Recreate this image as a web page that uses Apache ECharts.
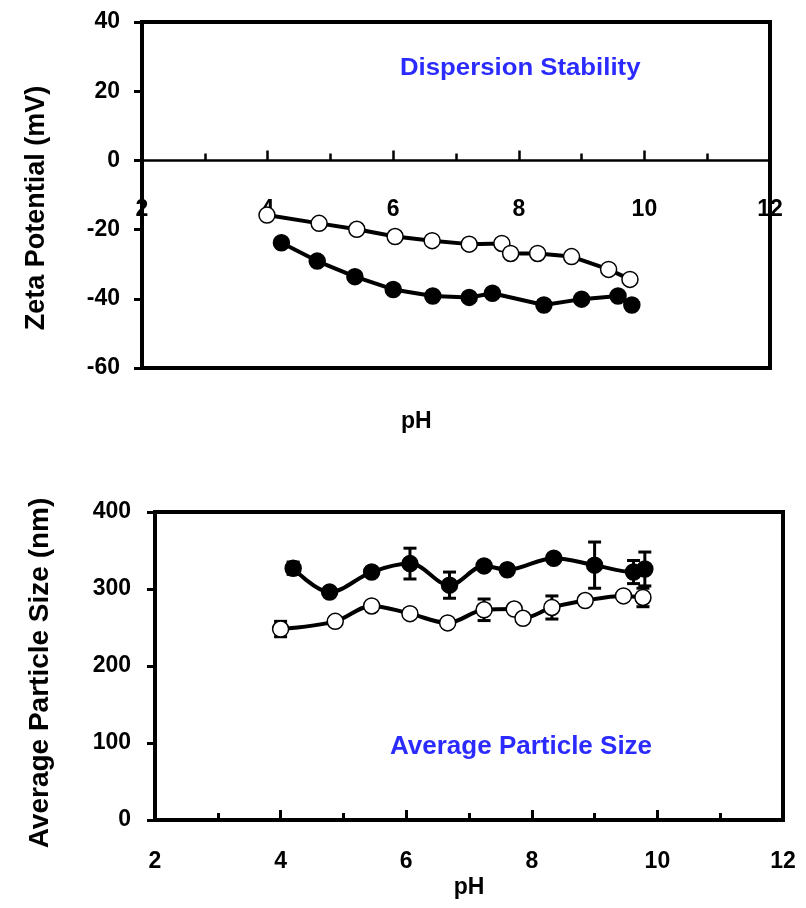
<!DOCTYPE html>
<html><head><meta charset="utf-8">
<script src="https://cdn.jsdelivr.net/npm/echarts@6/dist/echarts.min.js"></script>
<style>html,body{margin:0;padding:0;background:#fff}#c{width:806px;height:908px}</style>
</head><body><div id="c"></div>
<script>
// ---- Data ----
const zetaOpenPH   = [3.99, 4.82, 5.42, 6.03, 6.62, 7.21, 7.73, 7.87, 8.30, 8.84, 9.43, 9.77];
const zetaOpenVal  = [-15.8, -18.2, -19.9, -22.0, -23.2, -24.2, -24.0, -26.9, -26.9, -27.8, -31.5, -34.4];
const zetaFillPH   = [4.22, 4.79, 5.39, 6.00, 6.63, 7.21, 7.58, 8.40, 9.00, 9.58, 9.80];
const zetaFillVal  = [-23.8, -29.1, -33.6, -37.3, -39.2, -39.6, -38.4, -41.8, -40.1, -39.2, -41.8];

const sizeFillPH   = [4.20, 4.78, 5.45, 6.06, 6.69, 7.24, 7.61, 8.35, 9.00, 9.62, 9.80];
const sizeFillVal  = [327, 296, 322, 333, 305, 330, 325, 340, 331, 322, 326];
const sizeFillErr  = [8, 5, 5, 20, 17, 5, 5, 5, 30, 15, 22];
const sizeOpenPH   = [4.00, 4.87, 5.45, 6.06, 6.66, 7.24, 7.72, 7.86, 8.32, 8.85, 9.46, 9.77];
const sizeOpenVal  = [248, 258, 278, 268, 256, 273, 274, 262, 276, 285, 291, 289];
const sizeOpenErr  = [10, 5, 5, 5, 5, 14, 5, 5, 15, 5, 5, 12];

const pHTicks = [2, 4, 6, 8, 10, 12];
const zetaTicks = [-60, -40, -20, 0, 20, 40];
const sizeTicks = [0, 100, 200, 300, 400];

const FONT = 'Liberation Sans, Arial, sans-serif';
const BLUE = '#2b2bff';

function pairs(xs, ys) { return xs.map((x, i) => [x, ys[i]]); }
function errData(xs, ys, es) { return xs.map((x, i) => [x, ys[i] - es[i], ys[i] + es[i]]); }

function errSeries(xIdx, yIdx, data) {
  return {
    type: 'custom', xAxisIndex: xIdx, yAxisIndex: yIdx, z: 1, silent: true,
    data: data,
    renderItem: function (params, api) {
      const x = api.value(0), lo = api.value(1), hi = api.value(2);
      const p1 = api.coord([x, lo]), p2 = api.coord([x, hi]);
      const w = 6.5;
      const st = { stroke: '#000', lineWidth: 3 };
      return { type: 'group', children: [
        { type: 'line', shape: { x1: p1[0], y1: p1[1], x2: p2[0], y2: p2[1] }, style: st },
        { type: 'line', shape: { x1: p1[0] - w, y1: p1[1], x2: p1[0] + w, y2: p1[1] }, style: st },
        { type: 'line', shape: { x1: p2[0] - w, y1: p2[1], x2: p2[0] + w, y2: p2[1] }, style: st }
      ]};
    }
  };
}

function lineSeries(xIdx, yIdx, data, filled, smooth) {
  return {
    type: 'line', xAxisIndex: xIdx, yAxisIndex: yIdx, z: 3, smooth: smooth,
    data: data, symbol: 'circle', symbolSize: 16,
    lineStyle: { color: '#000', width: 4 },
    itemStyle: { color: filled ? '#000' : '#fff', borderColor: '#000', borderWidth: 1.5 },
    animation: false
  };
}

const labelStyle = { color: '#000', fontFamily: FONT, fontWeight: 'bold', fontSize: 23 };

const chart = echarts.init(document.getElementById('c'), null, { renderer: 'canvas' });
chart.setOption({
  backgroundColor: '#fff',
  animation: false,
  grid: [
    { left: 142, top: 22, width: 628, height: 346, show: true, borderColor: '#000', borderWidth: 4, backgroundColor: 'transparent' },
    { left: 155, top: 512, width: 628, height: 308, show: true, borderColor: '#000', borderWidth: 4, backgroundColor: 'transparent' }
  ],
  xAxis: [
    { type: 'value', gridIndex: 0, min: pHTicks[0], max: pHTicks[pHTicks.length - 1], interval: 2,
      axisLine: { onZero: true, lineStyle: { color: '#000', width: 2.5 } },
      axisTick: { show: true, inside: true, length: 10, lineStyle: { width: 2.5, color: '#000' } },
      minorTick: { show: true, splitNumber: 2, length: 7, lineStyle: { width: 2.5, color: '#000' } },
      splitLine: { show: false },
      axisLabel: Object.assign({ margin: -170, showMinLabel: true, showMaxLabel: true }, labelStyle)
    },
    { type: 'value', gridIndex: 1, min: pHTicks[0], max: pHTicks[pHTicks.length - 1], interval: 2,
      name: 'pH', nameLocation: 'middle', nameGap: 56,
      nameTextStyle: { color: '#000', fontFamily: FONT, fontWeight: 'bold', fontSize: 23 },
      axisLine: { onZero: false, lineStyle: { color: '#000', width: 4 } },
      axisTick: { show: true, inside: true, length: 10, lineStyle: { width: 3, color: '#000' } },
      minorTick: { show: true, splitNumber: 2, length: 7, lineStyle: { width: 3, color: '#000' } },
      splitLine: { show: false },
      axisLabel: Object.assign({ margin: 30, showMinLabel: true, showMaxLabel: true }, labelStyle)
    }
  ],
  yAxis: [
    { type: 'value', gridIndex: 0, min: zetaTicks[0], max: zetaTicks[zetaTicks.length - 1], interval: 20,
      axisLine: { show: true, lineStyle: { color: '#000', width: 4 } },
      axisTick: { show: true, inside: false, length: 8, lineStyle: { width: 3, color: '#000' } },
      splitLine: { show: false },
      axisLabel: Object.assign({ margin: 22 }, labelStyle)
    },
    { type: 'value', gridIndex: 1, min: sizeTicks[0], max: sizeTicks[sizeTicks.length - 1], interval: 100,
      axisLine: { show: true, lineStyle: { color: '#000', width: 4 } },
      axisTick: { show: true, inside: false, length: 8, lineStyle: { width: 3, color: '#000' } },
      splitLine: { show: false },
      axisLabel: Object.assign({ margin: 24 }, labelStyle)
    }
  ],
  graphic: [
    { type: 'text', x: 400, y: 57, scaleX: 1.12, z: 10,
      style: { text: 'Dispersion Stability', fill: BLUE, font: 'bold 23px ' + FONT } },
    { type: 'text', x: 390, y: 734, z: 10,
      style: { text: 'Average Particle Size', fill: BLUE, font: 'bold 26px ' + FONT } },
    { type: 'text', x: 401, y: 410, z: 10,
      style: { text: 'pH', fill: '#000', font: 'bold 23px ' + FONT } },
    { type: 'text', x: 37, y: 208, rotation: Math.PI / 2, z: 10,
      style: { text: 'Zeta Potential (mV)', fill: '#000', font: 'bold 27px ' + FONT, align: 'center', verticalAlign: 'middle' } },
    { type: 'text', x: 40, y: 673, rotation: Math.PI / 2, z: 10,
      style: { text: 'Average Particle Size (nm)', fill: '#000', font: 'bold 28px ' + FONT, align: 'center', verticalAlign: 'middle' } }
  ],
  series: [
    lineSeries(0, 0, pairs(zetaOpenPH, zetaOpenVal), false, false),
    lineSeries(0, 0, pairs(zetaFillPH, zetaFillVal), true, false),
    errSeries(1, 1, errData(sizeFillPH, sizeFillVal, sizeFillErr)),
    errSeries(1, 1, errData(sizeOpenPH, sizeOpenVal, sizeOpenErr)),
    lineSeries(1, 1, pairs(sizeFillPH, sizeFillVal), true, 0.35),
    lineSeries(1, 1, pairs(sizeOpenPH, sizeOpenVal), false, 0.35)
  ]
});
</script></body></html>
